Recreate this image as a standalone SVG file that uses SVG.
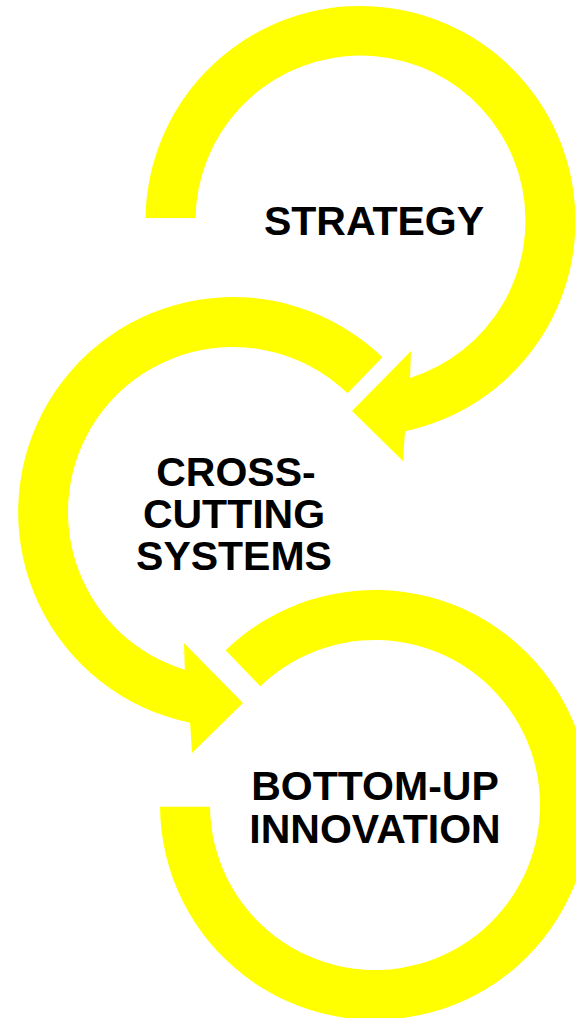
<svg xmlns="http://www.w3.org/2000/svg" width="576" height="1018" viewBox="0 0 576 1018">
<style>
.ring{fill:#FFFF00;stroke:none}
.lbl{font-family:"Liberation Sans",Arial,sans-serif;font-weight:bold;font-size:41px;fill:#000;text-anchor:middle}
</style>
<rect width="576" height="1018" fill="#fff"/>
<g id="connectors">
<path id="arrow-strategy" class="ring" d="M 145.5,218 A 215 215 0 1 1 405,431.3 L 403,461 L 352,411 L 411,351 L 410,378 A 165 165 0 1 0 195.5,218 Z"/>
<path id="arrow-cross" class="ring" d="M 382.4,357.3 A 215 215 0 1 0 190.1,722.7 L 192,753 L 243,703 L 184,643 L 184.8,669.8 A 165 165 0 1 1 347.6,393.3 Z"/>
<path id="arrow-bottom" class="ring" d="M 225.6,650.3 A 215 215 0 1 1 160,806.7 L 210,806.7 A 165 165 0 1 0 260.4,686.3 Z"/>
</g>
<g id="node-strategy">
<text class="lbl" x="374" y="235">STRATEGY</text>
</g>
<g id="node-cross">
<text class="lbl" x="236" y="486">CROSS-</text>
<text class="lbl" x="234" y="528">CUTTING</text>
<text class="lbl" x="234" y="570">SYSTEMS</text>
</g>
<g id="node-bottom">
<text class="lbl" x="375" y="800">BOTTOM-UP</text>
<text class="lbl" x="375" y="843">INNOVATION</text>
</g>
</svg>
